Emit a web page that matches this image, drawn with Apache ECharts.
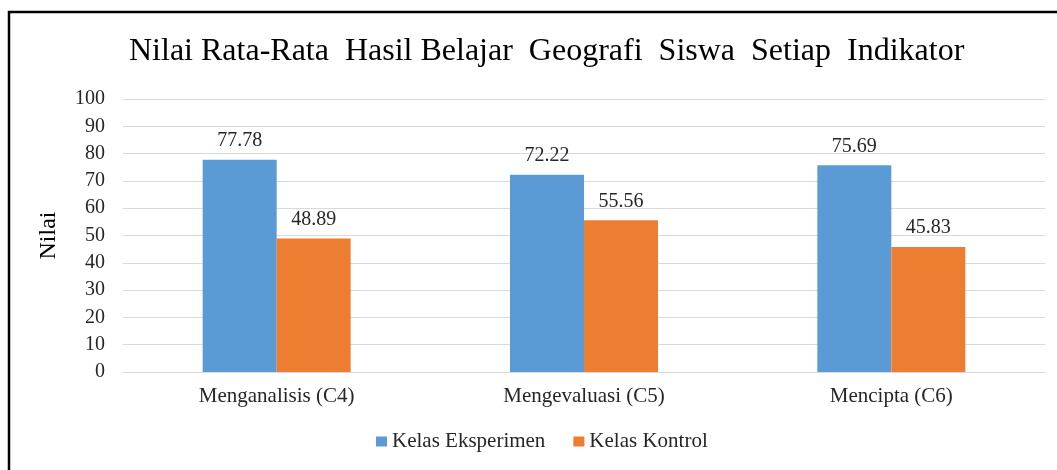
<!DOCTYPE html>
<html>
<head>
<meta charset="utf-8">
<script src="https://cdn.jsdelivr.net/npm/echarts@6/dist/echarts.min.js"></script>
<style>
html,body{margin:0;padding:0;background:#fff;}
#chart{width:1057px;height:470px;}
</style>
</head>
<body>
<div id="chart"></div>
<script>
var titleText = 'Nilai Rata-Rata  Hasil Belajar  Geografi  Siswa  Setiap  Indikator';
var categories = ['Menganalisis (C4)', 'Mengevaluasi (C5)', 'Mencipta (C6)'];
var seriesNames = ['Kelas Eksperimen', 'Kelas Kontrol'];
var eksperimen = [77.78, 72.22, 75.69];
var kontrol = [48.89, 55.56, 45.83];
var yTicks = [0, 10, 20, 30, 40, 50, 60, 70, 80, 90, 100];

var font = '"Liberation Serif", "Times New Roman", serif';
var chart = echarts.init(document.getElementById('chart'), null, {renderer: 'canvas'});
chart.setOption({
  animation: false,
  backgroundColor: '#ffffff',
  textStyle: {fontFamily: font},
  title: {
    text: titleText,
    left: 124,
    top: 31,
    textStyle: {fontFamily: font, fontSize: 32, fontWeight: 'normal', color: '#000000'}
  },
  graphic: [{
    type: 'rect',
    shape: {x: 9, y: 12, width: 1200, height: 600},
    style: {fill: 'none', stroke: '#000000', lineWidth: 2.5},
    silent: true,
    z: 100
  }],
  legend: {
    data: seriesNames,
    bottom: 13,
    left: 371,
    itemWidth: 11,
    itemHeight: 10,
    itemGap: 28,
    icon: 'rect',
    textStyle: {fontFamily: font, fontSize: 21, color: '#262626'}
  },
  grid: {left: 123, right: 12, top: 99, bottom: 98, containLabel: false},
  xAxis: {
    type: 'category',
    data: categories,
    axisTick: {show: false},
    axisLine: {lineStyle: {color: '#d9d9d9', width: 1}},
    axisLabel: {fontFamily: font, fontSize: 21, color: '#262626', margin: 14}
  },
  yAxis: {
    type: 'value',
    min: yTicks[0],
    max: yTicks[yTicks.length - 1],
    interval: 10,
    name: 'Nilai',
    nameLocation: 'middle',
    nameGap: 62,
    nameRotate: 90,
    nameTextStyle: {fontFamily: font, fontSize: 24, color: '#000000'},
    axisLine: {show: false},
    axisTick: {show: false},
    axisLabel: {fontFamily: font, fontSize: 20, color: '#262626', margin: 18},
    splitLine: {lineStyle: {color: '#d9d9d9', width: 1}}
  },
  series: [
    {
      name: seriesNames[0],
      type: 'bar',
      data: eksperimen,
      barWidth: 74,
      barGap: '0%',
      itemStyle: {color: '#5b9bd5'},
      label: {show: true, position: 'top', distance: 9, fontFamily: font, fontSize: 20, color: '#262626',
        formatter: function(p){return p.value.toFixed(2);}}
    },
    {
      name: seriesNames[1],
      type: 'bar',
      data: kontrol,
      barWidth: 74,
      barGap: '0%',
      itemStyle: {color: '#ed7d31'},
      label: {show: true, position: 'top', distance: 9, fontFamily: font, fontSize: 20, color: '#262626',
        formatter: function(p){return p.value.toFixed(2);}}
    }
  ]
});
</script>
</body>
</html>
